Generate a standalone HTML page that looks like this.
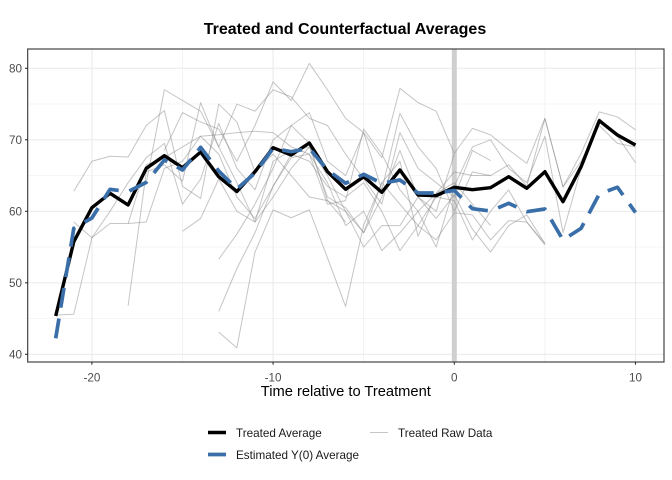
<!DOCTYPE html>
<html><head><meta charset="utf-8"><style>
html,body{margin:0;padding:0;background:#fff;}
svg{display:block;font-family:"Liberation Sans",Arial,sans-serif;}
</style></head><body>
<svg width="672" height="480" viewBox="0 0 672 480" xmlns="http://www.w3.org/2000/svg">
<rect width="672" height="480" fill="#fff"/>
<text x="345" y="34" text-anchor="middle" font-size="16" font-weight="bold" fill="#000">Treated and Counterfactual Averages</text>
<!-- minor grid -->
<g stroke="#ebebeb" stroke-width="0.6" fill="none">
<line x1="27.7" x2="664" y1="318.5" y2="318.5"/><line x1="27.7" x2="664" y1="247" y2="247"/>
<line x1="27.7" x2="664" y1="175.5" y2="175.5"/><line x1="27.7" x2="664" y1="104" y2="104"/>
<line y1="49" y2="362" x1="182.5" x2="182.5"/><line y1="49" y2="362" x1="363.7" x2="363.7"/><line y1="49" y2="362" x1="544.9" x2="544.9"/>
</g>
<g stroke="#ebebeb" stroke-width="1.1" fill="none">
<line x1="27.7" x2="664" y1="354.3" y2="354.3"/><line x1="27.7" x2="664" y1="282.8" y2="282.8"/>
<line x1="27.7" x2="664" y1="211.3" y2="211.3"/><line x1="27.7" x2="664" y1="139.8" y2="139.8"/><line x1="27.7" x2="664" y1="68.3" y2="68.3"/>
<line y1="49" y2="362" x1="91.9" x2="91.9"/><line y1="49" y2="362" x1="273.1" x2="273.1"/><line y1="49" y2="362" x1="454.3" x2="454.3"/><line y1="49" y2="362" x1="635.5" x2="635.5"/>
</g>
<rect x="451.8" y="49" width="5" height="313" fill="#cfcfcf"/>
<!-- raw data -->
<g transform="translate(454.3,640.3) scale(18.12,-7.15)" fill="none" stroke="rgba(140,140,140,0.5)" stroke-width="1" stroke-linejoin="round">
<polyline vector-effect="non-scaling-stroke" points="-21,62.8 -20,67 -19,67.7 -18,67.6 -17,72 -16,74.1 -15,63.5 -14,61.8 -13,75 -12,72.5 -11,65.5 -10,68 -9,65 -8,62 -7,61.5 -6,58.5"/>
<polyline vector-effect="non-scaling-stroke" points="-22,45.5 -21,45.6 -20,56.3 -19,58.3 -18,58.3 -17,66.5 -16,67.5 -15,69 -14,70.5 -13,68 -12,62 -11,59 -10,63.5 -9,68 -8,67 -7,63.5 -6,62 -5,64 -4,60 -3,54.5 -2,58 -1,62 0,61.5 1,56 2,60 3,63 4,58.5 5,55.5"/>
<polyline vector-effect="non-scaling-stroke" points="-21,58.5 -20,56.3 -19,60 -18,64 -17,67.5 -16,69.5 -15,61 -14,64.5 -13,72.3 -12,66 -11,63 -10,70 -9,72 -8,73.8 -7,67 -6,65 -5,71 -4,63 -3,73.7 -2,69 -1,66 0,60 1,65.5 2,65 3,66.5 4,63.5 5,73 6,63.4 7,67 8,72 9,69.5 10,69"/>
<polyline vector-effect="non-scaling-stroke" points="-18,46.8 -17,65.5 -16,66.5 -15,64.2 -14,75.2 -13,69 -12,64 -11,58.5 -10,62 -9,66 -8,69 -7,62 -6,60.5 -5,57 -4,62 -3,68.5 -2,62 -1,59 0,62.3 1,57.5 2,54.3 3,58 4,59.5 5,55.5"/>
<polyline vector-effect="non-scaling-stroke" points="-18,58.3 -17,58.5 -16,66 -15,67 -14,70.5 -13,70.7 -12,71 -11,71.2 -10,71 -9,69 -8,68 -7,61 -6,61.5 -5,71.5 -4,68 -3,63 -2,60 -1,55 0,63.5 1,69 2,70 3,66 4,64 5,70.5 6,57 7,66 8,73 9,70.5 10,66.8"/>
<polyline vector-effect="non-scaling-stroke" points="-15,57.2 -14,59 -13,64.5 -12,60 -11,58.5 -10,67 -9,68.5 -8,69 -7,65 -6,60 -5,55 -4,58 -3,58 -2,62 -1,60 0,68"/>
<polyline vector-effect="non-scaling-stroke" points="-13,53.3 -12,56.8 -11,61 -10,66 -9,72 -8,69.5 -7,61.5 -6,60 -5,57 -4,64 -3,67 -2,56.5 -1,62.5 0,65.5 1,65 2,65"/>
<polyline vector-effect="non-scaling-stroke" points="-13,46 -12,52 -11,57 -10,63.5 -9,67.5 -8,68 -7,64 -6,58 -5,60 -4,54.5 -3,57 -2,60 -1,62.5 0,64 1,61 2,58"/>
<polyline vector-effect="non-scaling-stroke" points="-13,43.1 -12,40.9 -11,54.3 -10,60.2 -9,59.1 -8,60.2 -7,53.5 -6,46.7 -5,58.1 -4,64 -3,61 -2,58 -1,56 0,59.8 1,59.5 2,56 3,58.7 4,58.5 5,55.3"/>
<polyline vector-effect="non-scaling-stroke" points="-16,68.5 -15,73.8 -14,72.5 -13,71.5 -12,67 -11,72 -10,78.1 -9,75.5 -8,80.7 -7,77 -6,73 -5,71 -4,67.5 -3,77.2 -2,75.2 -1,74 0,68.1 1,71.6 2,70.7 3,68.6 4,66.7 5,73 6,63.4 7,68.1 8,73.9 9,73.2 10,71.4"/>
<polyline vector-effect="non-scaling-stroke" points="-17,64 -16,77 -15,75.5 -14,74 -13,69 -12,75 -11,74 -10,77 -9,76 -8,73 -7,72 -6,68 -5,64.5 -4,61 -3,71 -2,66 -1,64 0,62 1,68.5 2,67.1"/>
</g>
<!-- treated average -->
<polyline fill="none" stroke="#000" stroke-width="3.4" stroke-linejoin="round" points="55.7,316 73.8,241.7 91.9,207.7 110,193.3 128.1,205 146.3,168.3 164.4,155.7 182.5,167.7 200.6,152 218.7,176.7 236.9,191.5 255,171.7 273.1,147.7 291.2,155 309.3,143 327.5,171.7 345.6,189.3 363.7,176.7 381.8,192.3 399.9,170 418.1,195 436.2,195.7 454.3,187.3 472.4,189.7 490.5,187.7 508.7,176.7 526.8,188.3 544.9,171.7 563,201.7 581.1,166.7 599.3,120.7 617.4,135 635.5,145"/>
<!-- Y(0) -->
<polyline fill="none" stroke="#3a6ea8" stroke-width="3.7" stroke-linejoin="round" stroke-dasharray="20 11" points="55.7,338.3 73.8,228.3 91.9,218 110,189.3 128.1,191.7 146.3,182.3 164.4,160 182.5,170 200.6,147.3 218.7,171 236.9,189 255,173 273.1,148.3 291.2,151.7 309.3,148.3 327.5,170 345.6,183.3 363.7,174.3 381.8,183.3 399.9,180 418.1,193 436.2,193 454.3,190.5 472.4,208.7 490.5,211 508.7,203.3 526.8,211.7 544.9,209 563,240 581.1,228.3 599.3,194 617.4,187.2 635.5,212.5"/>
<!-- panel border -->
<rect x="27.7" y="49" width="636.3" height="313" fill="none" stroke="#333" stroke-width="1.1"/>
<!-- ticks -->
<g stroke="#333" stroke-width="1.1">
<line x1="25" x2="27.7" y1="354.3" y2="354.3"/><line x1="25" x2="27.7" y1="282.8" y2="282.8"/><line x1="25" x2="27.7" y1="211.3" y2="211.3"/><line x1="25" x2="27.7" y1="139.8" y2="139.8"/><line x1="25" x2="27.7" y1="68.3" y2="68.3"/>
<line y1="362" y2="364.7" x1="91.9" x2="91.9"/><line y1="362" y2="364.7" x1="273.1" x2="273.1"/><line y1="362" y2="364.7" x1="454.3" x2="454.3"/><line y1="362" y2="364.7" x1="635.5" x2="635.5"/>
</g>
<g font-size="11.7" fill="#4d4d4d" text-anchor="end">
<text x="22" y="358.5">40</text><text x="22" y="287">50</text><text x="22" y="215.5">60</text><text x="22" y="144">70</text><text x="22" y="72.5">80</text>
</g>
<g font-size="11.7" fill="#4d4d4d" text-anchor="middle">
<text x="91.9" y="381.5">-20</text><text x="273.1" y="381.5">-10</text><text x="454.3" y="381.5">0</text><text x="635.5" y="381.5">10</text>
</g>
<text x="345.8" y="396" text-anchor="middle" font-size="14.7" fill="#000">Time relative to Treatment</text>
<!-- legend -->
<line x1="208" x2="226" y1="432.5" y2="432.5" stroke="#000" stroke-width="3.4"/>
<line x1="370" x2="388" y1="432.5" y2="432.5" stroke="rgba(140,140,140,0.5)" stroke-width="1"/>
<line x1="208" x2="226" y1="454.5" y2="454.5" stroke="#3a6ea8" stroke-width="3.7"/>
<g font-size="11.7" fill="#1a1a1a">
<text x="236" y="436.8">Treated Average</text>
<text x="398" y="436.8">Treated Raw Data</text>
<text x="236" y="458.8">Estimated Y(0) Average</text>
</g>
</svg>
</body></html>
